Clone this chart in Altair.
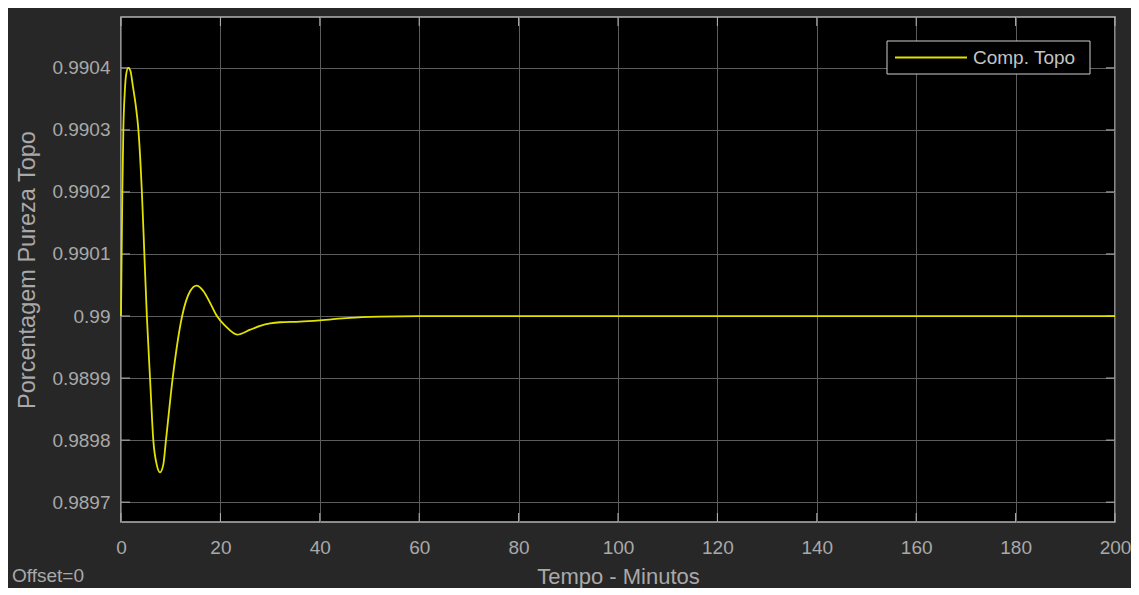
import altair as alt
import pandas as pd

# ---- data ----
time_min = [0, 0.13, 0.27, 0.47, 0.75, 1.05, 1.47, 1.9, 2.4, 2.96, 3.5, 4.2, 4.7, 5.2,
            5.84, 6.5, 7.2, 7.85, 8.5, 9.05, 10.4, 12.3, 13.9, 15.2, 16.6, 18.0, 19.3,
            21.0, 23.4, 26.0, 28.0, 30.0, 32.0, 36.0, 40.0, 46.0, 52.0, 60.0, 80.0,
            100.0, 120.0, 140.0, 160.0, 180.0, 200.0]
purity = [0.99, 0.9901, 0.9902, 0.9903, 0.99036, 0.99039, 0.9904, 0.990395, 0.99037, 0.99034,
          0.9903, 0.9902, 0.9901, 0.99, 0.9899, 0.9898, 0.98976, 0.989748, 0.98976, 0.9898,
          0.9899, 0.99, 0.99004, 0.990049, 0.99004, 0.99002, 0.99, 0.989984, 0.98997,
          0.989978, 0.989984, 0.989988, 0.98999, 0.989991, 0.989993, 0.989997, 0.989999,
          0.99, 0.99, 0.99, 0.99, 0.99, 0.99, 0.99, 0.99]
series_name = ["Comp. Topo"]
x_ticks = [0, 20, 40, 60, 80, 100, 120, 140, 160, 180, 200]
y_ticks = [0.9897, 0.9898, 0.9899, 0.99, 0.9901, 0.9902, 0.9903, 0.9904]
x_title = "Tempo - Minutos"
y_title = "Porcentagem Pureza Topo"
corner_note = ["Offset=0"]

df = pd.DataFrame({"t": time_min, "v": purity})
xt = pd.DataFrame({"t": x_ticks})
yt = pd.DataFrame({"v": y_ticks})
note = pd.DataFrame({"label": corner_note})
leg = pd.DataFrame({"name": series_name})

W, H = 994, 505
FONT = "Liberation Sans"
TXT = "#a9a9a9"
BORDER = "#b4b4b4"
LINE = "#e2e200"

xs = alt.Scale(domain=[0, 200], nice=False, zero=False)
ys = alt.Scale(domain=[0.989668, 0.990482], nice=False, zero=False)

x_axis = alt.Axis(values=x_ticks, title=x_title, labelPadding=16, tickSize=0,
                  labelFlush=False,
                  titleX=W / 2, titleY=54, titleAlign="center", titleBaseline="middle",
                  titleFontSize=22)
y_axis = alt.Axis(values=y_ticks, labelExpr="format(datum.value, '.4~f')", title=y_title,
                  labelPadding=11, tickSize=0, labelFlush=False,
                  titleX=-94, titleY=H / 2, titleAngle=270,
                  titleAlign="center", titleBaseline="middle", titleFontSize=23.5)

line = alt.Chart(df).mark_line(strokeWidth=1.8, interpolate="monotone", color=LINE).encode(
    x=alt.X("t:Q", scale=xs, axis=x_axis),
    y=alt.Y("v:Q", scale=ys, axis=y_axis),
)

tick_left = alt.Chart(yt).mark_rule(color=BORDER).encode(
    y=alt.Y("v:Q", scale=ys, axis=y_axis), x=alt.value(0), x2=alt.value(9))
tick_right = alt.Chart(yt).mark_rule(color=BORDER).encode(
    y=alt.Y("v:Q", scale=ys, axis=y_axis), x=alt.value(W - 9), x2=alt.value(W))
tick_bottom = alt.Chart(xt).mark_rule(color=BORDER).encode(
    x=alt.X("t:Q", scale=xs, axis=x_axis), y=alt.value(H - 9), y2=alt.value(H))
tick_top = alt.Chart(xt).mark_rule(color=BORDER).encode(
    x=alt.X("t:Q", scale=xs, axis=x_axis), y=alt.value(0), y2=alt.value(9))

note_text = alt.Chart(note).mark_text(
    align="left", baseline="middle", font=FONT, fontSize=19, color=TXT).encode(
    text="label:N", x=alt.value(-109), y=alt.value(559))

# legend box (top right, as in the scope display)
leg_box = alt.Chart(leg).mark_rect(fill="#000000", stroke="#cfcfcf", strokeWidth=1).encode(
    x=alt.value(766), x2=alt.value(969), y=alt.value(24), y2=alt.value(57))
leg_line = alt.Chart(leg).mark_rule(color=LINE, strokeWidth=1.8).encode(
    x=alt.value(774), x2=alt.value(846), y=alt.value(40.5))
leg_text = alt.Chart(leg).mark_text(
    align="left", baseline="middle", font=FONT, fontSize=19, color="#c4c4c4").encode(
    text="name:N", x=alt.value(852), y=alt.value(41))

chart = alt.layer(tick_left, tick_right, tick_bottom, tick_top, line,
                  leg_box, leg_line, leg_text, note_text).properties(
    width=W, height=H,
    autosize=alt.AutoSizeParams(type="none"),
    padding={"left": 113, "top": 9, "right": 16, "bottom": 66},
    background="#272727",
).configure_view(
    fill="#000000", stroke=BORDER, strokeWidth=1.5
).configure_axis(
    grid=True, gridColor="#5c5c5c", gridWidth=1, domain=False, ticks=False,
    labelColor=TXT, labelFont=FONT, labelFontSize=19,
    titleColor=TXT, titleFont=FONT, titleFontWeight="normal",
)

chart.save("out.html", embed_options={"renderer": "svg", "actions": False})
